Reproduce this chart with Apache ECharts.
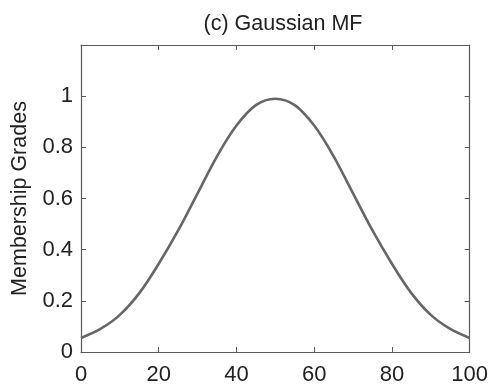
<!DOCTYPE html>
<html>
<head>
<meta charset="utf-8">
<script src="https://cdn.jsdelivr.net/npm/echarts@6/dist/echarts.min.js"></script>
<style>
html,body{margin:0;padding:0;background:#fff;}
#chart{width:491px;height:387px;}
</style>
</head>
<body>
<div id="chart"></div>
<script>
var xValues = [0,5,10,15,20,25,30,35,40,45,50,55,60,65,70,75,80,85,90,95,100];
var membership = [0.055,0.09,0.145,0.23,0.345,0.475,0.62,0.765,0.885,0.965,0.99,0.965,0.885,0.765,0.62,0.475,0.345,0.23,0.145,0.09,0.055];
var titleText = '(c) Gaussian MF';
var yName = 'Membership Grades';

var FONT = "'Liberation Sans Narrow', 'Arial Narrow', 'Liberation Sans', Arial, sans-serif";
var AX = '#5a5a5a';
var TXT = '#222222';

var chart = echarts.init(document.getElementById('chart'));
var data = xValues.map(function(x,i){return [x, membership[i]];});

function axisBase(show){
  return {
    axisLine:{show:true,onZero:false,lineStyle:{color:AX,width:1.2}},
    axisTick:{show:true,inside:true,length:5,lineStyle:{color:AX,width:1}},
    splitLine:{show:false},
    axisLabel:{show:show,color:TXT,fontFamily:FONT,fontSize:22}
  };
}

var xb = axisBase(true), xt = axisBase(false), yl = axisBase(true), yr = axisBase(false);

chart.setOption({
  animation:false,
  backgroundColor:'#fff',
  title:{text:titleText,left:278,top:8,textAlign:'center',
    textStyle:{color:TXT,fontFamily:FONT,fontSize:21.5,fontWeight:'normal'}},
  grid:{left:81,right:18,top:45,bottom:35,containLabel:false},
  xAxis:[
    Object.assign({type:'value',position:'bottom',min:0,max:100,interval:20}, xb,
      {axisLabel:Object.assign({},xb.axisLabel,{margin:12})}),
    Object.assign({type:'value',position:'top',min:0,max:100,interval:20}, xt)
  ],
  yAxis:[
    Object.assign({type:'value',position:'left',min:0,max:1.2,interval:0.2,
      name:yName,nameLocation:'middle',nameRotate:90,nameGap:50,
      nameTextStyle:{color:TXT,fontFamily:FONT,fontSize:21.5}}, yl,
      {axisLabel:Object.assign({},yl.axisLabel,{margin:8,formatter:function(v){return v>1.1?'':String(Math.round(v*10)/10);}})}),
    Object.assign({type:'value',position:'right',min:0,max:1.2,interval:0.2}, yr)
  ],
  series:[{
    type:'line',
    data:data,
    xAxisIndex:0,yAxisIndex:0,
    smooth:0.35,
    showSymbol:false,
    lineStyle:{color:'#666666',width:2.6},
    z:3
  }]
});
</script>
</body>
</html>
